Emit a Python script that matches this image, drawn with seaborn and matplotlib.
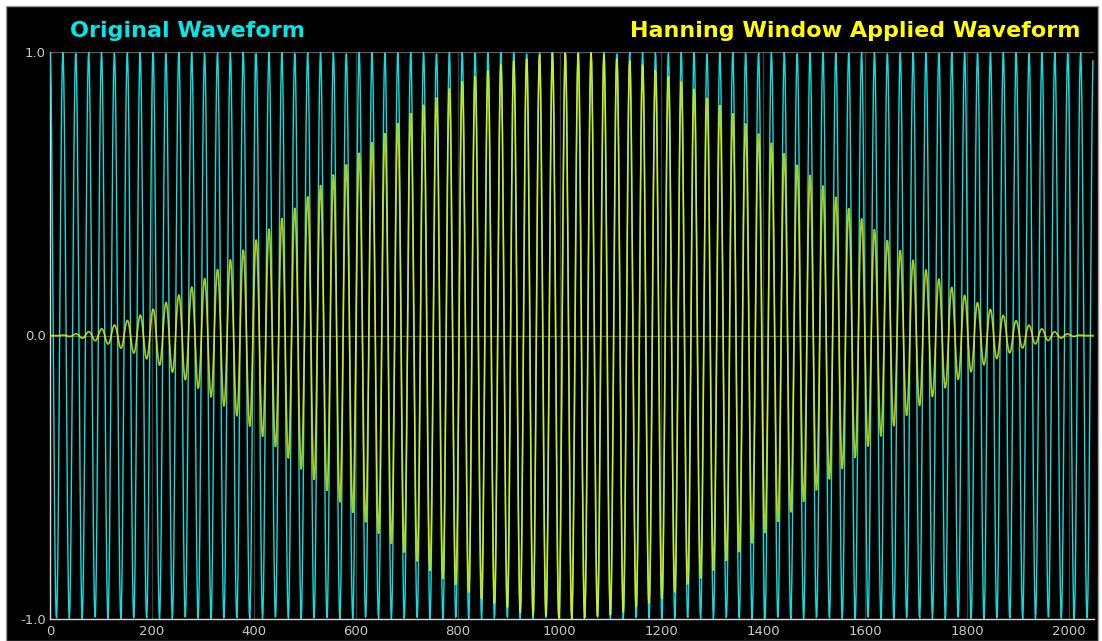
import numpy as np
import pandas as pd
import matplotlib
matplotlib.use("Agg")
import matplotlib.pyplot as plt
from matplotlib.patches import Rectangle
import seaborn as sns

# Signal definition
n_samples = 2048
cycles = 81
x_ticks = [0, 200, 400, 600, 800, 1000, 1200, 1400, 1600, 1800, 2000]
y_ticks = [-1.0, 0.0, 1.0]
y_tick_labels = ["-1.0", "0.0", "1.0"]
titles = ["Original Waveform", "Hanning Window Applied Waveform"]

sample = np.arange(n_samples)
original = np.cos(2 * np.pi * cycles * sample / n_samples)
window = np.hanning(n_samples)
windowed = original * window

df = pd.DataFrame({"sample": sample, "original": original, "windowed": windowed})

sns.set_style("dark")
plt.rcParams["font.family"] = ["DejaVu Sans"]

W, H = 1102, 641
fig = plt.figure(figsize=(W / 100, H / 100), dpi=100, facecolor="white")

# black panel behind the plot
panel = Rectangle((6 / W, 0), (1098 - 6) / W, (H - 6) / H,
                  transform=fig.transFigure, facecolor="black",
                  edgecolor="#9a9a9a", linewidth=1.0, zorder=-10)
fig.add_artist(panel)

ax = fig.add_axes([50 / W, 22 / H, 1043.5 / W, 567 / H])
ax.set_zorder(1)
ax.set_facecolor("black")

sns.lineplot(data=df, x="sample", y="original", ax=ax, color="#10dede",
             linewidth=1.0, sort=False, estimator=None, zorder=3)
sns.lineplot(data=df, x="sample", y="windowed", ax=ax, color="#f4f400",
             linewidth=1.2, alpha=0.8, sort=False, estimator=None, zorder=4)

ax.set_xlim(0, n_samples)
ax.set_ylim(-1.0, 1.0)
ax.set_xticks(x_ticks)
ax.set_xticks(np.arange(100, n_samples, 200), minor=True)
ax.set_yticks(y_ticks)
ax.set_yticklabels(y_tick_labels)
ax.set_xlabel("")
ax.set_ylabel("")

ax.grid(False)
for xv in x_ticks:
    ax.axvline(xv, color="#3c3c3c", linewidth=1.0, zorder=1)
for yv in [0.0, 1.0]:
    ax.axhline(yv, color="#5a5a5a", linewidth=1.0, zorder=1)

for side in ["top", "right"]:
    ax.spines[side].set_visible(False)
for side in ["left", "bottom"]:
    ax.spines[side].set_visible(True)
    ax.spines[side].set_color("#d8d8d8")
    ax.spines[side].set_linewidth(1.0)

ax.tick_params(axis="both", which="major", colors="#d0d0d0", labelcolor="#c8c8c8",
               labelsize=9.5, length=4, width=1, direction="inout", pad=2)
ax.tick_params(axis="x", which="minor", colors="#d0d0d0", length=4, width=1,
               direction="inout")
ax.tick_params(axis="y", pad=1)

fig.text(70 / W, 1 - 31 / H, titles[0], color="#00e8e8", fontsize=16,
         fontweight="bold", ha="left", va="center")
fig.text(1080 / W, 1 - 31 / H, titles[1], color="#ffff00", fontsize=16,
         fontweight="bold", ha="right", va="center")

fig.savefig("out.png", dpi=100, facecolor="white")
